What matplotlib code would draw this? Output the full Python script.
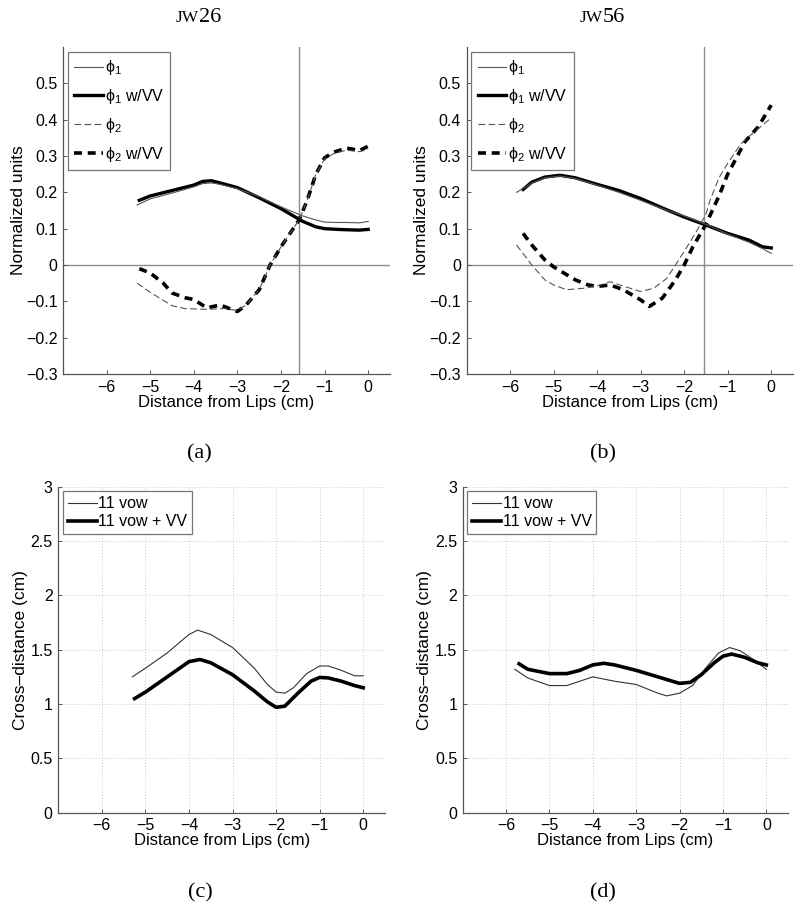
import matplotlib
matplotlib.use("Agg")
import matplotlib.pyplot as plt

plt.rcParams['font.family'] = ['Liberation Sans', 'DejaVu Sans']
plt.rcParams['mathtext.fontset'] = 'custom'
plt.rcParams['mathtext.rm'] = 'Liberation Sans'
plt.rcParams['mathtext.it'] = 'Liberation Sans:italic'
plt.rcParams['mathtext.fallback'] = 'stixsans'

# ---------------- data ----------------
# (a) JW26
a_phi1_x = [-5.3, -5.0, -4.5, -4.0, -3.8, -3.6, -3.4, -3.0, -2.5, -2.0, -1.5, -1.2, -1.0, -0.7, -0.5, -0.2, 0.0]
a_phi1_y = [0.165, 0.182, 0.198, 0.215, 0.224, 0.226, 0.222, 0.210, 0.188, 0.160, 0.135, 0.124, 0.118, 0.117, 0.117, 0.116, 0.120]
a_phi1vv_x = [-5.25, -5.0, -4.5, -4.0, -3.8, -3.6, -3.4, -3.0, -2.5, -2.0, -1.5, -1.2, -1.0, -0.7, -0.5, -0.2, 0.0]
a_phi1vv_y = [0.178, 0.190, 0.205, 0.220, 0.230, 0.232, 0.226, 0.213, 0.185, 0.155, 0.120, 0.105, 0.100, 0.098, 0.097, 0.096, 0.098]
a_phi2_x = [-5.3, -5.0, -4.5, -4.2, -3.7, -3.3, -3.0, -2.8, -2.5, -2.25, -2.0, -1.58, -1.4, -1.2, -1.0, -0.8, -0.5, -0.2, 0.0]
a_phi2_y = [-0.050, -0.075, -0.112, -0.120, -0.122, -0.120, -0.125, -0.110, -0.068, 0.0, 0.050, 0.125, 0.178, 0.250, 0.292, 0.306, 0.316, 0.312, 0.318]
a_phi2vv_x = [-5.25, -5.0, -4.7, -4.5, -4.2, -4.0, -3.7, -3.4, -3.0, -2.8, -2.5, -2.25, -2.0, -1.58, -1.4, -1.2, -1.0, -0.8, -0.5, -0.2, 0.0]
a_phi2vv_y = [-0.010, -0.022, -0.050, -0.077, -0.090, -0.095, -0.118, -0.110, -0.128, -0.110, -0.068, 0.0, 0.050, 0.125, 0.178, 0.250, 0.295, 0.310, 0.322, 0.315, 0.327]
a_vline = -1.58

# (b) JW56
b_phi1_x = [-5.85, -5.5, -5.2, -4.85, -4.5, -4.0, -3.5, -3.0, -2.5, -2.0, -1.5, -1.0, -0.5, -0.2, 0.0]
b_phi1_y = [0.200, 0.225, 0.240, 0.245, 0.238, 0.220, 0.200, 0.178, 0.155, 0.135, 0.112, 0.085, 0.062, 0.045, 0.032]
b_phi1vv_x = [-5.7, -5.5, -5.2, -4.85, -4.5, -4.0, -3.5, -3.0, -2.5, -2.0, -1.5, -1.0, -0.5, -0.2, 0.0]
b_phi1vv_y = [0.208, 0.228, 0.242, 0.247, 0.240, 0.222, 0.205, 0.183, 0.157, 0.132, 0.110, 0.087, 0.068, 0.050, 0.047]
b_phi2_x = [-5.85, -5.5, -5.2, -5.0, -4.7, -4.3, -4.0, -3.7, -3.4, -3.0, -2.7, -2.4, -2.2, -2.0, -1.7, -1.5, -1.4, -1.2, -1.0, -0.7, -0.45, 0.0]
b_phi2_y = [0.055, 0.0, -0.041, -0.055, -0.068, -0.064, -0.058, -0.046, -0.058, -0.073, -0.064, -0.037, 0.0, 0.037, 0.096, 0.140, 0.180, 0.240, 0.280, 0.333, 0.360, 0.405]
b_phi2vv_x = [-5.7, -5.5, -5.2, -5.0, -4.5, -4.2, -4.0, -3.7, -3.4, -3.0, -2.8, -2.5, -2.2, -2.0, -1.8, -1.5, -1.2, -1.0, -0.6, -0.3, 0.0]
b_phi2vv_y = [0.087, 0.055, 0.014, -0.005, -0.041, -0.055, -0.059, -0.055, -0.068, -0.096, -0.114, -0.091, -0.041, 0.0, 0.050, 0.112, 0.190, 0.250, 0.340, 0.380, 0.440]
b_vline = -1.54

# (c) JW26 cross-distance
c_vow_x = [-5.3, -5.0, -4.5, -4.0, -3.8, -3.5, -3.0, -2.5, -2.2, -2.0, -1.8, -1.6, -1.3, -1.0, -0.8, -0.5, -0.2, 0.0]
c_vow_y = [1.25, 1.33, 1.47, 1.64, 1.68, 1.64, 1.52, 1.33, 1.18, 1.11, 1.10, 1.15, 1.28, 1.35, 1.35, 1.31, 1.26, 1.26]
c_vv_x = [-5.25, -5.0, -4.5, -4.0, -3.75, -3.5, -3.0, -2.5, -2.2, -2.0, -1.8, -1.5, -1.2, -1.0, -0.8, -0.5, -0.2, 0.0]
c_vv_y = [1.05, 1.11, 1.25, 1.39, 1.41, 1.38, 1.27, 1.12, 1.02, 0.97, 0.98, 1.10, 1.21, 1.245, 1.24, 1.21, 1.17, 1.15]

# (d) JW56 cross-distance
d_vow_x = [-5.8, -5.5, -5.0, -4.6, -4.3, -4.0, -3.5, -3.0, -2.5, -2.3, -2.0, -1.7, -1.4, -1.1, -0.85, -0.6, -0.3, 0.0]
d_vow_y = [1.32, 1.24, 1.17, 1.17, 1.21, 1.25, 1.21, 1.18, 1.10, 1.075, 1.10, 1.17, 1.33, 1.47, 1.52, 1.49, 1.41, 1.32]
d_vv_x = [-5.7, -5.5, -5.0, -4.6, -4.3, -4.0, -3.75, -3.5, -3.0, -2.5, -2.0, -1.75, -1.5, -1.2, -1.0, -0.8, -0.5, -0.2, 0.0]
d_vv_y = [1.37, 1.32, 1.28, 1.28, 1.31, 1.36, 1.375, 1.36, 1.31, 1.25, 1.19, 1.20, 1.27, 1.38, 1.44, 1.46, 1.43, 1.38, 1.36]

x_ticks = [-6, -5, -4, -3, -2, -1, 0]
top_yticks = [-0.3, -0.2, -0.1, 0, 0.1, 0.2, 0.3, 0.4, 0.5]
bot_yticks = [0, 0.5, 1, 1.5, 2, 2.5, 3]
top_labels = [r"$\mathrm{\phi}_1$", r"$\mathrm{\phi}_1$ w/VV", r"$\mathrm{\phi}_2$", r"$\mathrm{\phi}_2$ w/VV"]
bot_labels = ["11 vow", "11 vow + VV"]

# ---------------- figure ----------------
W, H = 800, 909
fig = plt.figure(figsize=(W / 100, H / 100), dpi=100)

def fx(px):
    return px / W

def fy(py):
    return 1 - py / H

def make_ax(l, t, r, b):
    return fig.add_axes([fx(l), fy(b), fx(r) - fx(l), fy(t) - fy(b)])

SPINE = '#555555'

def fmt(v):
    return ('%g' % v).replace('-', '\u2212')

def style(ax):
    for s in ['top', 'right']:
        ax.spines[s].set_visible(False)
    for s in ['left', 'bottom']:
        ax.spines[s].set_color(SPINE)
        ax.spines[s].set_linewidth(0.9)
    ax.tick_params(direction='in', length=3, width=0.7, colors=SPINE,
                   labelcolor='black', labelsize=11.5, pad=4)
    ax.set_xlim(-7, 0.5)
    ax.set_xticks(x_ticks)
    ax.set_xticklabels([fmt(v) for v in x_ticks])
    ax.set_xlabel("Distance from Lips (cm)", fontsize=12, labelpad=0)

def top_panel(ax, p1x, p1y, p1vx, p1vy, p2x, p2y, p2vx, p2vy, vline):
    style(ax)
    ax.set_ylim(-0.3, 0.6)
    ax.set_yticks(top_yticks)
    ax.set_yticklabels([fmt(v) for v in top_yticks])
    ax.axhline(0, color='#8c8c8c', lw=1.0, zorder=1)
    ax.axvline(vline, color='#8c8c8c', lw=1.0, zorder=1)
    h1, = ax.plot(p1x, p1y, color='#555555', lw=0.8, zorder=3)
    h2, = ax.plot(p1vx, p1vy, color='black', lw=2.4, zorder=2)
    h3, = ax.plot(p2x, p2y, color='#555555', lw=0.8, ls=(0, (6, 3)), zorder=3)
    h4, = ax.plot(p2vx, p2vy, color='black', lw=2.6, ls=(0, (2.2, 1.6)), zorder=2)
    lg = ax.legend([h1, h2, h3, h4], top_labels, loc='upper left', fontsize=11.5,
                   handlelength=1.8, handletextpad=0.1, labelspacing=0.62,
                   borderaxespad=0.3, borderpad=0.4, fancybox=False,
                   framealpha=1, edgecolor='#777777')
    lg.get_frame().set_linewidth(0.9)
    ax.set_ylabel("Normalized units", fontsize=12.5, labelpad=0)

def bot_panel(ax, vx, vy, vvx, vvy):
    style(ax)
    ax.set_ylim(0, 3)
    ax.set_yticks(bot_yticks)
    ax.set_yticklabels([fmt(v) for v in bot_yticks])
    ax.grid(True, ls=(0, (1, 2)), color='#c8c8c8', lw=0.7)
    ax.set_axisbelow(True)
    h1, = ax.plot(vx, vy, color='#333333', lw=0.8)
    h2, = ax.plot(vvx, vvy, color='black', lw=2.6)
    lg = ax.legend([h1, h2], bot_labels, loc='upper left', fontsize=11.5,
                   handlelength=1.8, handletextpad=0.1, labelspacing=0.2,
                   borderaxespad=0.3, borderpad=0.3, fancybox=False,
                   framealpha=1, edgecolor='#777777')
    lg.get_frame().set_linewidth(0.9)
    ax.set_ylabel("Cross\u2013distance (cm)", fontsize=12.5, labelpad=2)

ax_a = make_ax(63, 47, 390, 374)
ax_b = make_ax(466.5, 47, 793, 374)
ax_c = make_ax(58.3, 486.7, 385, 812.7)
ax_d = make_ax(462.7, 486.7, 788, 812.7)

top_panel(ax_a, a_phi1_x, a_phi1_y, a_phi1vv_x, a_phi1vv_y,
          a_phi2_x, a_phi2_y, a_phi2vv_x, a_phi2vv_y, a_vline)
top_panel(ax_b, b_phi1_x, b_phi1_y, b_phi1vv_x, b_phi1vv_y,
          b_phi2_x, b_phi2_y, b_phi2vv_x, b_phi2vv_y, b_vline)
bot_panel(ax_c, c_vow_x, c_vow_y, c_vv_x, c_vv_y)
bot_panel(ax_d, d_vow_x, d_vow_y, d_vv_x, d_vv_y)

SERIF = ['Liberation Serif', 'DejaVu Serif']
for cx, num in [(199, "26"), (603, "56")]:
    fig.text(fx(cx), fy(22), "JW", ha='right', va='baseline', fontsize=12.5, family=SERIF)
    fig.text(fx(cx), fy(22), num, ha='left', va='baseline', fontsize=16, family=SERIF)

for cx, cy, lab in [(199, 454, "(a)"), (603, 454, "(b)"), (200, 893, "(c)"), (603, 893, "(d)")]:
    fig.text(fx(cx), fy(cy), lab, ha='center', va='center', fontsize=16, family=SERIF)

fig.savefig("out.png", dpi=100)
